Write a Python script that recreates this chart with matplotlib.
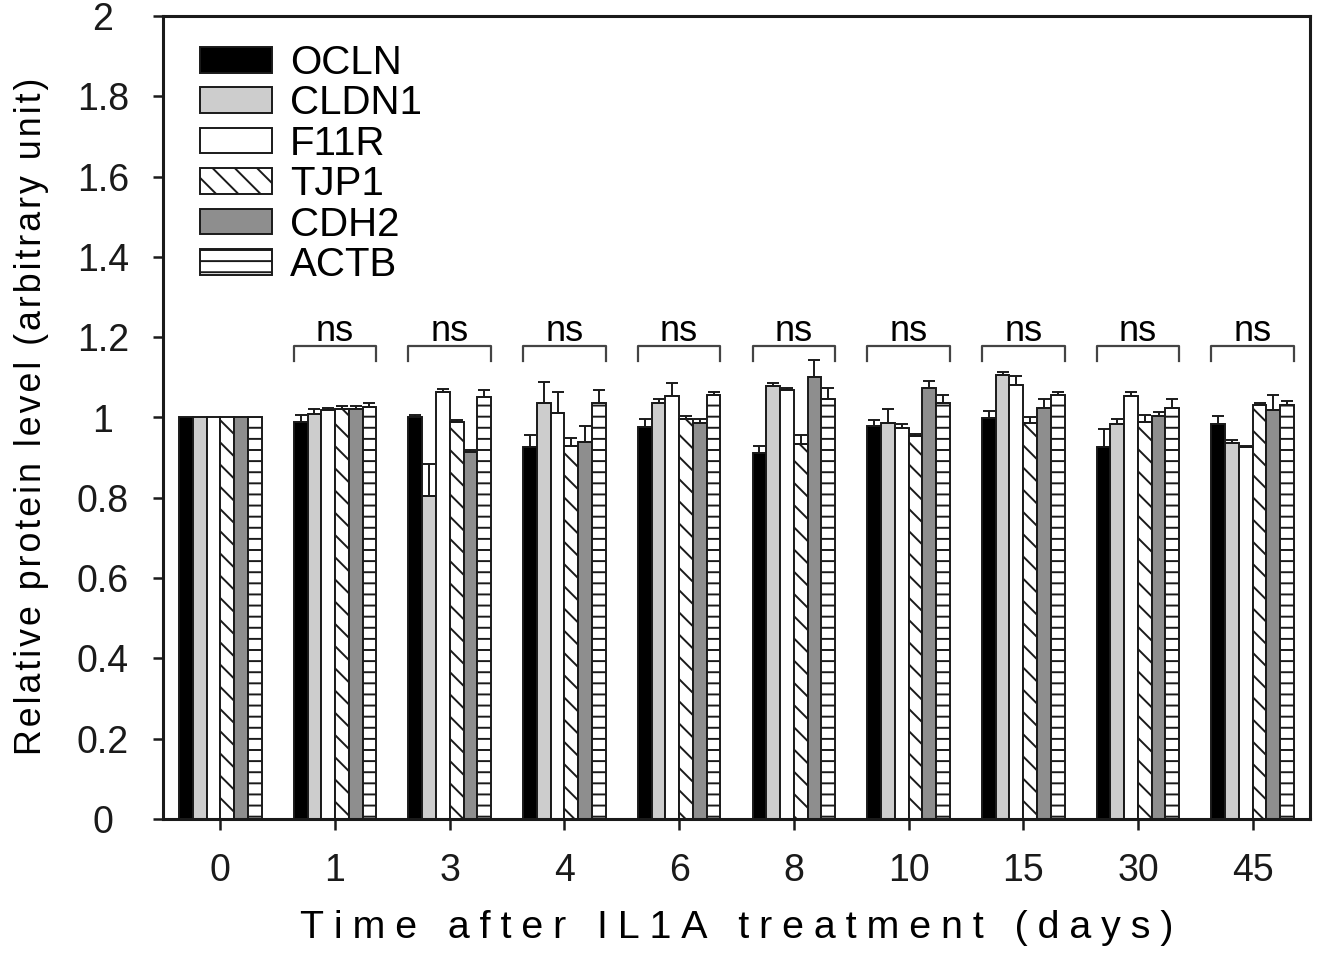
import matplotlib
matplotlib.use('Agg')
import matplotlib.pyplot as plt
import numpy as np

# ---------------- data ----------------
days = ['0', '1', '3', '4', '6', '8', '10', '15', '30', '45']
proteins = ['OCLN', 'CLDN1', 'F11R', 'TJP1', 'CDH2', 'ACTB']

OCLN = [1.0, 0.990, 1.000, 0.926, 0.977, 0.912, 0.980, 0.999, 0.926, 0.985]
OCLN_err = [0, 0.015, 0.007, 0.031, 0.020, 0.016, 0.013, 0.016, 0.045, 0.018]
CLDN1 = [1.0, 1.009, 0.804, 1.035, 1.035, 1.078, 0.986, 1.105, 0.985, 0.937]
CLDN1_err = [0, 0.011, 0.079, 0.053, 0.010, 0.007, 0.035, 0.009, 0.012, 0.006]
F11R = [1.0, 1.018, 1.063, 1.011, 1.053, 1.068, 0.974, 1.082, 1.053, 0.926]
F11R_err = [0, 0.005, 0.007, 0.052, 0.032, 0.005, 0.009, 0.021, 0.010, 0.004]
TJP1 = [1.0, 1.022, 0.988, 0.930, 0.997, 0.935, 0.953, 0.986, 0.990, 1.030]
TJP1_err = [0, 0.006, 0.007, 0.019, 0.006, 0.022, 0.007, 0.016, 0.017, 0.006]
CDH2 = [1.0, 1.022, 0.913, 0.938, 0.986, 1.101, 1.074, 1.024, 1.003, 1.018]
CDH2_err = [0, 0.006, 0.007, 0.040, 0.011, 0.041, 0.018, 0.021, 0.010, 0.039]
ACTB = [1.0, 1.027, 1.051, 1.036, 1.055, 1.045, 1.036, 1.055, 1.024, 1.032]
ACTB_err = [0, 0.008, 0.017, 0.032, 0.008, 0.029, 0.019, 0.008, 0.021, 0.008]

sig_labels = ['', 'ns', 'ns', 'ns', 'ns', 'ns', 'ns', 'ns', 'ns', 'ns']

values = [OCLN, CLDN1, F11R, TJP1, CDH2, ACTB]
errors = [OCLN_err, CLDN1_err, F11R_err, TJP1_err, CDH2_err, ACTB_err]

# ---------------- style ----------------
plt.rcParams['font.family'] = ['Liberation Sans', 'DejaVu Sans']
plt.rcParams['hatch.linewidth'] = 0.7

face_colors = ['#000000', '#cdcdcd', '#ffffff', '#ffffff', '#8e8e8e', '#ffffff']
hatches = ['', '', '', '\\\\\\', '', '---']
edge = '#1a1a1a'

fig = plt.figure(figsize=(6.6, 4.775), dpi=200)
ax = fig.add_axes([163 / 1320, 1 - 819 / 955, (1310 - 163) / 1320, (819 - 16) / 955])

x = np.arange(len(days))
width = 0.12
n = len(proteins)

for i, (name, vals, errs, fc, h) in enumerate(zip(proteins, values, errors, face_colors, hatches)):
    offs = (i - (n - 1) / 2) * width
    ax.bar(x + offs, vals, width, color=fc, edgecolor=edge, linewidth=0.7,
           hatch=h, label=name, zorder=2)
    v = np.array(vals)
    e = np.array(errs)
    m = e > 0
    ax.errorbar((x + offs)[m], v[m], yerr=[np.zeros(m.sum()), e[m]], fmt='none',
                ecolor=edge, elinewidth=0.7, capsize=2.0, capthick=0.7, zorder=3)

# significance brackets
half = n * width / 2
for i, lab in enumerate(sig_labels):
    if not lab:
        continue
    ax.plot([i - half, i - half, i + half, i + half], [1.14, 1.177, 1.177, 1.14],
            color='#444444', lw=0.8, zorder=3)
    ax.text(i, 1.19, lab, ha='center', va='baseline', fontsize=13)

ax.set_xlim(-0.5, len(days) - 0.5)
ax.set_ylim(0, 2)
ax.set_xticks(x)
ax.set_xticklabels(days)
yt = np.round(np.arange(0, 2.01, 0.2), 1)
ax.set_yticks(yt)
ax.set_yticklabels(['%g' % t for t in yt])
for lab in ax.get_yticklabels():
    lab.set_horizontalalignment('center')

ax.tick_params(axis='y', direction='out', length=3.6, width=0.9, labelsize=13.5, pad=18,
               colors='#1a1a1a')
ax.tick_params(axis='x', direction='out', length=3.9, width=0.9, labelsize=13.5, pad=8.5,
               colors='#1a1a1a')
for s in ax.spines.values():
    s.set_linewidth(1.1)
    s.set_color('#1a1a1a')

yl = '\u200a'.join(list('Relative protein level (arbitrary unit)'))
ax.set_ylabel(yl, fontsize=12.9)
ax.yaxis.set_label_coords((49 - 163) / 1147, 0.501)
xl = '\u2005'.join(list('Time after IL1A treatment (days)'))
ax.set_xlabel(xl, fontsize=14.2, va='top')
ax.xaxis.set_label_coords(0.5004, (819 - 910) / 803)

ax.legend(loc='upper left', bbox_to_anchor=((200 - 163) / 1147, (819 - 44) / 803),
          frameon=False, fontsize=14.5, handlelength=1.79, handleheight=0.6,
          labelspacing=0.06, handletextpad=0.45, borderaxespad=0, borderpad=0)

fig.savefig('out.png', dpi=200)
